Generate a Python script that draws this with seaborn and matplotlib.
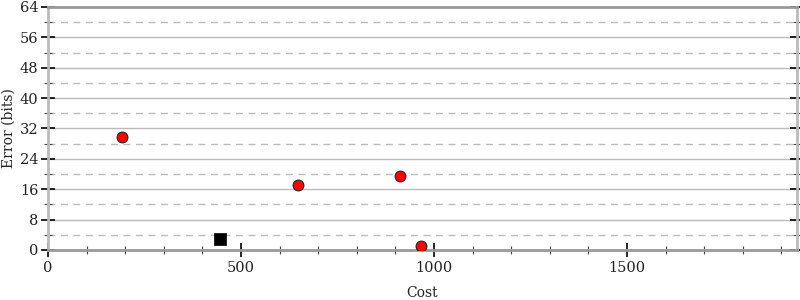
import matplotlib
matplotlib.use("Agg")
import matplotlib.pyplot as plt
import seaborn as sns
import pandas as pd
import numpy as np
from matplotlib.ticker import MultipleLocator

circle_cost = [192, 648, 912, 966]
circle_error = [29.8, 17.1, 19.5, 1.05]
square_cost = [446]
square_error = [2.9]

sns.set_style("white")
plt.rcParams['font.family'] = ['DejaVu Serif']

fig = plt.figure(figsize=(8, 3), dpi=100)
ax = fig.add_axes([0.06, 0.1667, 0.936, 0.81])

df_c = pd.DataFrame({"Cost": circle_cost, "Error": circle_error})
df_s = pd.DataFrame({"Cost": square_cost, "Error": square_error})

ax.set_xlim(0, 1940)
ax.set_ylim(0, 64)

ax.yaxis.set_major_locator(MultipleLocator(8))
ax.yaxis.set_minor_locator(MultipleLocator(4))
ax.xaxis.set_major_locator(MultipleLocator(500))
ax.xaxis.set_minor_locator(MultipleLocator(100))

for y in np.arange(8, 64, 8):
    ax.axhline(y, color="#bbbbbb", lw=1, zorder=0)
for y in np.arange(4, 64, 8):
    ax.axhline(y, color="#bbbbbb", lw=1, ls=(0, (5, 4)), zorder=0)

sns.scatterplot(data=df_c, x="Cost", y="Error", ax=ax, marker="o", s=60,
                color="#ff0000", edgecolor="#222222", linewidth=0.8, zorder=3)
sns.scatterplot(data=df_s, x="Cost", y="Error", ax=ax, marker="s", s=80,
                color="black", edgecolor="black", linewidth=0.5, zorder=3)

for s in ax.spines.values():
    s.set_color("#999999")
    s.set_linewidth(2)
ax.spines["left"].set_color("#bbbbbb")
ax.spines["right"].set_color("#bbbbbb")

ax.tick_params(axis="both", which="major", direction="inout", length=10, width=1.2,
               color="black", labelsize=10.5, labelcolor="#222222")
ax.tick_params(axis="both", which="minor", direction="inout", length=6, width=0.8,
               color="#444444")
ax.tick_params(axis="y", which="both", left=True, right=True, pad=2)
ax.tick_params(axis="x", which="both", bottom=True, top=False, pad=3)

ax.set_xlabel("Cost", fontsize=10, labelpad=8, color="#222222")
ax.set_ylabel("Error (bits)", fontsize=10, labelpad=3, color="#222222")

fig.savefig("out.png", dpi=100)
